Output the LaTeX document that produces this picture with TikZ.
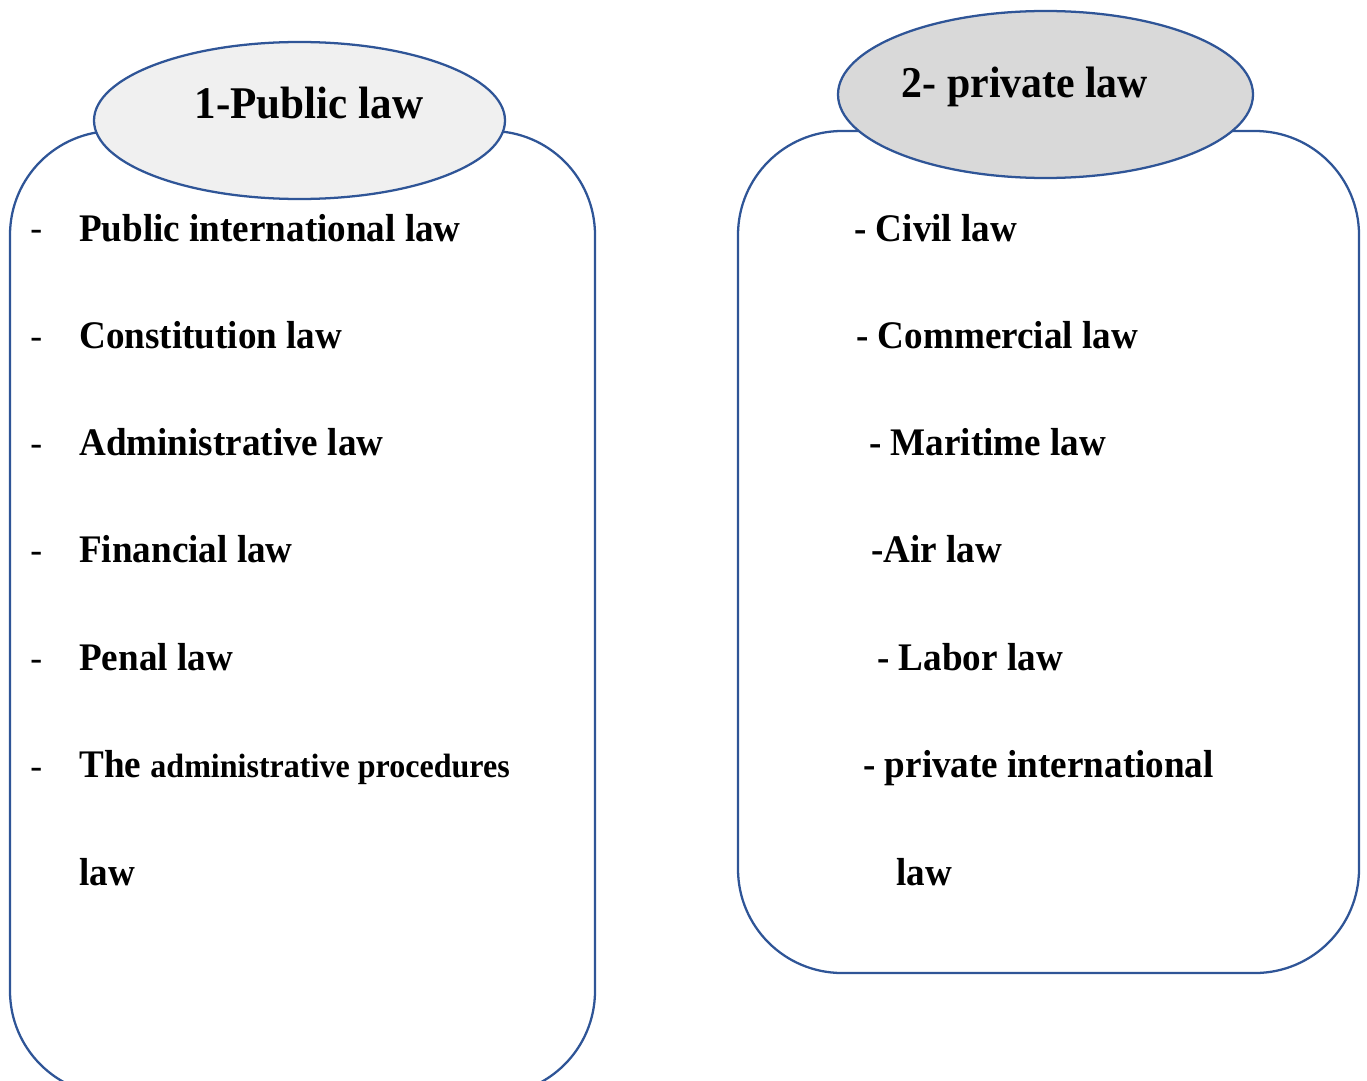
\documentclass[tikz,border=0pt]{standalone}
\usepackage{fontspec}
\setmainfont{Liberation Serif}[FakeStretch=0.95]
\usetikzlibrary{shapes.geometric}
\definecolor{edgeblue}{HTML}{2F5597}
\definecolor{fillA}{HTML}{F0F0F0}
\definecolor{fillB}{HTML}{D9D9D9}
\tikzset{
  panel/.style={draw=edgeblue, line width=1.7pt, rounded corners=78pt, rectangle, inner sep=0pt, fill=white},
  oval/.style={draw=edgeblue, line width=1.7pt, ellipse, inner sep=0pt},
  titletext/.style={font=\fontsize{34}{41}\selectfont\bfseries, anchor=base, inner sep=0pt},
  item/.style={font=\fontsize{29.3}{36}\selectfont\bfseries, anchor=base west, inner sep=0pt},
  dashmark/.style={font=\fontsize{28}{34}\selectfont, anchor=base west, inner sep=0pt},
}
\begin{document}
\begin{tikzpicture}[x=0.75pt,y=-0.75pt]
\useasboundingbox (0,0) rectangle (1367,1081);
\clip (0,0) rectangle (1367,1081);
% panels
\node[panel, minimum width=438.75pt, minimum height=723pt] (leftbox) at (302.5,613) {};
\node[panel, minimum width=465.75pt, minimum height=631.5pt] (rightbox) at (1048.5,552) {};
% ovals
\node[oval, fill=fillA, minimum width=308.25pt, minimum height=117.75pt] (leftoval) at (299.5,120.5) {};
\node[oval, fill=fillB, minimum width=311.25pt, minimum height=125.25pt] (rightoval) at (1045.5,94.5) {};
% titles
\node[titletext] (lt) at (309,118) {1-Public law};
\node[titletext, font=\fontsize{33}{40}\selectfont\bfseries] (rt) at (1025,98) {2- private law};
% left items
\node[dashmark] (d1) at (30,240) {-};
\node[dashmark] (d2) at (30,348) {-};
\node[dashmark] (d3) at (30,455) {-};
\node[dashmark] (d4) at (30,562) {-};
\node[dashmark] (d5) at (30,670) {-};
\node[dashmark] (d6) at (30,778) {-};
\node[item] (l1) at (79,241) {Public international law};
\node[item] (l2) at (79,348) {Constitution law};
\node[item] (l3) at (79,455) {Administrative law};
\node[item] (l4) at (79,562) {Financial law};
\node[item] (l5) at (79,670) {Penal law};
\node[item] (l6) at (79,777) {The {\fontsize{25.3}{32}\selectfont administrative procedures}};
\node[item] (l7) at (79,885) {law};
% right items
\node[item] (r1) at (854,241) {- Civil law};
\node[item] (r2) at (856,348) {- Commercial law};
\node[item] (r3) at (869,455) {- Maritime law};
\node[item] (r4) at (871,562) {-Air law};
\node[item] (r5) at (877,670) {- Labor law};
\node[item] (r6) at (863,777) {- private international};
\node[item] (r7) at (896,885) {law};
\end{tikzpicture}
\end{document}
